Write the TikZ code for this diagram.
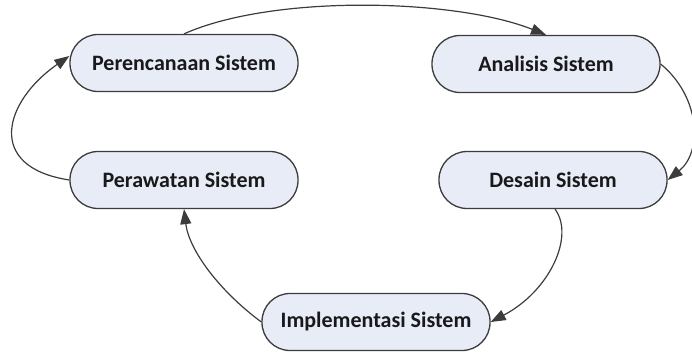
\documentclass[tikz,border=0pt]{standalone}
\usepackage{fontspec}
\setmainfont{Carlito}
\definecolor{stagefill}{RGB}{231,236,247}
\definecolor{stageline}{RGB}{60,60,60}
\usepackage{tikz}
\usetikzlibrary{arrows.meta}

\begin{document}
\begin{tikzpicture}[x=1pt,y=-1pt,
          stage/.style={rectangle,rounded corners=28pt,draw=stageline,line width=1.3pt,fill=stagefill,
                        minimum width=228pt,minimum height=57pt,inner sep=0pt,text=black!90,
                        font=\fontsize{22}{26}\selectfont\bfseries},
          flow/.style={draw=stageline,line width=1.2pt,-{Triangle[length=15pt,width=11pt]}}]
        \useasboundingbox (0,0) rectangle (692,352);
        \node[stage] (perencanaan)  at (184,63)  {Perencanaan Sistem};
        \node[stage] (analisis)     at (546,64)  {Analisis Sistem};
        \node[stage] (desain)       at (553,180) {Desain Sistem};
        \node[stage] (perawatan)    at (184,180) {Perawatan Sistem};
        \node[stage] (implementasi) at (376,322) {Implementasi Sistem};
        % siklus
        \draw[flow] (perencanaan.north) .. controls +(90,-40) and +(-90,-36) .. (analisis.north);
        \draw[flow] (analisis.east) .. controls +(40,33) and +(35,-28) .. (desain.east);
        \draw[flow] ([xshift=2pt]desain.south) .. controls +(20,27) and +(59,-31) .. (implementasi.east);
        \draw[flow] (implementasi.west) .. controls +(-42,-31) and +(5,41) .. (perawatan.south);
        \draw[flow] (perawatan.west) .. controls +(-85,-13) and +(-65,45) .. ([yshift=7pt]perencanaan.west);
\end{tikzpicture}
\end{document}
